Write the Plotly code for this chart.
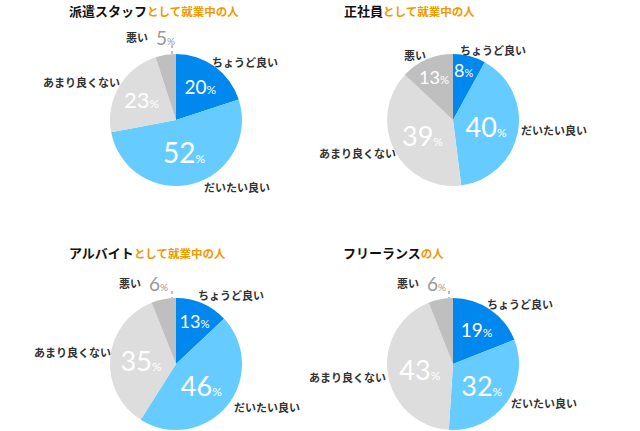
import plotly.graph_objects as go

W, H = 640, 431

categories = ["ちょうど良い", "だいたい良い", "あまり良くない", "悪い"]
haken = [20, 52, 23, 5]
seishain = [8, 40, 39, 13]
arubaito = [13, 46, 35, 6]
freelance = [19, 32, 43, 6]

titles = [("派遣スタッフ", "として就業中の人"),
          ("正社員", "として就業中の人"),
          ("アルバイト", "として就業中の人"),
          ("フリーランス", "の人")]

colors = ["#0088ee", "#66ccff", "#dddddd", "#bfbfbf"]
num_font = "Lato"
jp_font = "Noto Sans CJK JP"


def px(x):
    return x / W


def py(y):
    return 1 - y / H


# pie centre (px), radius
centers = [(176, 120), (453, 120), (176, 364), (453, 364)]
R = 66
# inside text sizes per slice
sizes = [[19, 28, 22, 12], [17, 27, 27, 19], [19, 27, 27, 12], [19, 27, 27, 12]]
# title positions (left x, y)
title_pos = [(67, 11), (342, 11), (67, 252), (341, 252)]
# label centres per pie: ちょうど良い, だいたい良い, あまり良くない, 悪い
label_pos = [
    [(245, 62), (237, 187), (81, 82), (137, 37)],
    [(493, 50), (554, 130), (357, 153), (415, 55)],
    [(231, 295), (267, 407), (72, 352), (130, 283)],
    [(520, 304), (544, 403), (347, 377), (408, 283)],
]
# where a narrow first slice keeps its value (inside, near the rim)
narrow_pos = {1: (463, 70)}

fig = go.Figure()
annotations = []
shapes = []

for i, vals in enumerate([haken, seishain, arubaito, freelance]):
    cx, cy = centers[i]
    texts = []
    for v in vals:
        if v < 10:
            texts.append("")
        else:
            texts.append(f"{v}<span style='font-size:12px'>%</span>")
    fig.add_trace(go.Pie(
        labels=categories, values=vals, text=texts,
        textinfo="text", textposition="inside",
        insidetextorientation="horizontal",
        sort=False, direction="clockwise", rotation=0,
        marker=dict(colors=colors, line=dict(width=0)),
        textfont=dict(family=num_font, size=sizes[i], color="white", weight=400),
        domain=dict(x=[px(cx - R), px(cx + R)], y=[py(cy + R), py(cy - R)]),
        showlegend=False, hoverinfo="label+percent",
    ))

    # titles
    tx, ty = title_pos[i]
    annotations.append(dict(
        x=px(tx), y=py(ty), xref="paper", yref="paper", xanchor="left", yanchor="middle",
        showarrow=False,
        text=f"<b>{titles[i][0]}</b><span style='font-size:11.5px;color:#f39800'><b>{titles[i][1]}</b></span>",
        font=dict(family=jp_font, size=13, color="#111111"),
    ))

    # category labels
    for j, cat in enumerate(categories):
        lx, ly = label_pos[i][j]
        annotations.append(dict(
            x=px(lx), y=py(ly), xref="paper", yref="paper", xanchor="center", yanchor="middle",
            showarrow=False, text=f"<b>{cat}</b>",
            font=dict(family=jp_font, size=11, color="#333333"),
        ))

    # narrow first slice: value inside near the rim
    if i in narrow_pos and vals[0] < 10:
        nx, ny = narrow_pos[i]
        annotations.append(dict(
            x=px(nx), y=py(ny), xref="paper", yref="paper", xanchor="center", yanchor="middle",
            showarrow=False,
            text=f"{vals[0]}<span style='font-size:11px'>%</span>",
            font=dict(family=num_font, size=18, color="white", weight=400),
        ))

    # small slice value outside with dotted leader
    if vals[3] < 10:
        lx, ly = label_pos[i][3]
        annotations.append(dict(
            x=px(lx + 17), y=py(ly), xref="paper", yref="paper", xanchor="left", yanchor="middle",
            showarrow=False,
            text=f"{vals[3]}<span style='font-size:10px'>%</span>",
            font=dict(family=num_font, size=19, color="#999999", weight=400),
        ))
        lxl = cx - 4
        shapes.append(dict(
            type="line", xref="paper", yref="paper",
            x0=px(lxl), x1=px(lxl), y0=py(ly + 8), y1=py(cy - R),
            line=dict(color="#aaaaaa", width=1.5, dash="dot"),
        ))

fig.update_layout(
    width=W, height=H,
    margin=dict(l=0, r=0, t=0, b=0),
    paper_bgcolor="white", plot_bgcolor="white",
    annotations=annotations, shapes=shapes,
)

fig.write_html("out.html", config={"displayModeBar": False},
               post_script="document.body.style.margin='0px';")
